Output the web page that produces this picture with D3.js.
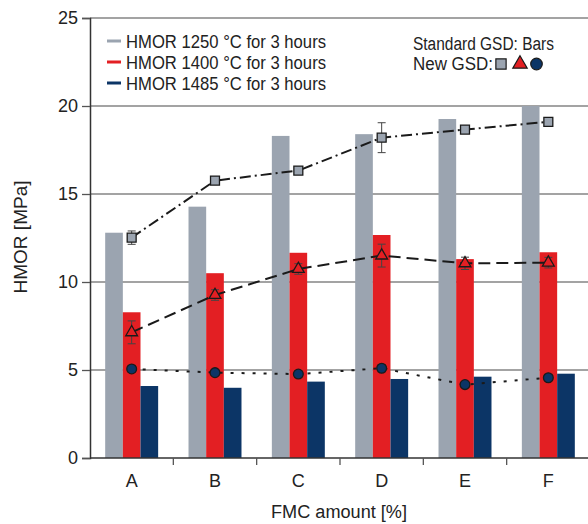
<!DOCTYPE html>
<html>
<head>
<meta charset="utf-8">
<script src="https://cdn.jsdelivr.net/npm/d3@7"></script>
<style>
  html, body { margin: 0; padding: 0; background: #fff; }
  svg { display: block; font-family: "Liberation Sans", Arial, sans-serif; }
</style>
</head>
<body>
<svg id="chart"></svg>
<script>
// Размеры
const width = 588;
const height = 524;

// Данные
const categories = ["A", "B", "C", "D", "E", "F"];
const seriesNames = ["HMOR 1250 °C for 3 hours", "HMOR 1400 °C for 3 hours", "HMOR 1485 °C for 3 hours"];
const colors = ["#9ba4b0", "#e31f23", "#0c3566"];

// Standard GSD: bars
const bars1250 = [12.8, 14.28, 18.3, 18.4, 19.26, 20.0];
const bars1400 = [8.28, 10.5, 11.66, 12.67, 11.3, 11.69];
const bars1485 = [4.09, 3.99, 4.34, 4.49, 4.62, 4.79];

// New GSD: points and errors
const new1250 = [12.52, 15.76, 16.33, 18.2, 18.66, 19.1];
const err1250 = [0.38, 0.2, 0.2, 0.85, 0.15, 0.2];
const new1400 = [7.14, 9.26, 10.74, 11.5, 11.06, 11.1];
const err1400 = [0.65, 0.3, 0.3, 0.65, 0.35, 0.3];
const new1485 = [5.06, 4.85, 4.77, 5.1, 4.17, 4.56];
const err1485 = [0.2, 0.15, 0.2, 0.2, 0.15, 0.15];

const yTicks = [0, 5, 10, 15, 20, 25];

const svg = d3.select("#chart").attr("width", width).attr("height", height);

const x = d3.scaleBand().domain(categories).range([90, 590]).padding(0);
const sub = d3.scaleBand().domain([0, 1, 2]).range([0, x.bandwidth()])
    .paddingInner(0).paddingOuter(0.86);
const y = d3.scaleLinear().domain([0, 25]).range([458, 18]);

// Сетка
svg.append("g")
    .selectAll("line")
    .data(yTicks.filter(d => d > 0))
    .enter()
    .append("line")
    .attr("x1", 90).attr("x2", width)
    .attr("y1", d => y(d)).attr("y2", d => y(d))
    .attr("stroke", "#858585")
    .attr("stroke-width", 1.5);

// Столбцы
const barData = [bars1250, bars1400, bars1485];
barData.forEach((vals, si) => {
    svg.append("g")
        .selectAll("rect")
        .data(vals)
        .enter()
        .append("rect")
        .attr("x", (d, i) => x(categories[i]) + sub(si))
        .attr("width", sub.bandwidth())
        .attr("y", d => y(d))
        .attr("height", d => y(0) - y(d))
        .attr("fill", colors[si]);
});

// Оси
const yAxis = svg.append("g")
    .attr("transform", "translate(90,0)")
    .call(d3.axisLeft(y).tickValues(yTicks).tickSize(8).tickPadding(4));
yAxis.select(".domain").attr("stroke", "#333").attr("stroke-width", 1.5);
yAxis.selectAll(".tick line").attr("stroke", "#555").attr("stroke-width", 1.3);
yAxis.selectAll(".tick text").attr("font-size", 18).attr("fill", "#222")
    .attr("font-family", "Liberation Sans, Arial, sans-serif");

const xAxisG = svg.append("g");
xAxisG.append("line")
    .attr("x1", 90).attr("x2", width)
    .attr("y1", y(0)).attr("y2", y(0))
    .attr("stroke", "#333").attr("stroke-width", 1.5);
xAxisG.selectAll(".xtick")
    .data(categories.slice(1))
    .enter()
    .append("line")
    .attr("x1", d => x(d)).attr("x2", d => x(d))
    .attr("y1", y(0)).attr("y2", y(0) + 7)
    .attr("stroke", "#555").attr("stroke-width", 1.3);
xAxisG.selectAll(".xlabel")
    .data(categories)
    .enter()
    .append("text")
    .attr("x", d => x(d) + x.bandwidth() / 2)
    .attr("y", 487)
    .attr("text-anchor", "middle")
    .attr("font-size", 18)
    .attr("fill", "#222")
    .text(d => d);

// Подписи осей
svg.append("text")
    .attr("x", 339).attr("y", 518)
    .attr("text-anchor", "middle")
    .attr("font-size", 18)
    .attr("textLength", 136).attr("lengthAdjust", "spacingAndGlyphs")
    .attr("fill", "#222")
    .text("FMC amount [%]");

svg.append("text")
    .attr("transform", "translate(27,237) rotate(-90)")
    .attr("text-anchor", "middle")
    .attr("font-size", 19)
    .attr("fill", "#222")
    .text("HMOR [MPa]");

// Линии New GSD
const cx = i => x(categories[i]) + x.bandwidth() / 2;
const lineGen = d3.line().x((d, i) => cx(i)).y(d => y(d));

const points = [
    { vals: new1250, errs: err1250, dash: "11,4,2,4", shape: "square" },
    { vals: new1400, errs: err1400, dash: "12,6", shape: "triangle" },
    { vals: new1485, errs: err1485, dash: "3,8", shape: "circle" }
];

points.forEach((p, si) => {
    svg.append("path")
        .datum(p.vals)
        .attr("d", lineGen)
        .attr("fill", "none")
        .attr("stroke", "#1a1a1a")
        .attr("stroke-width", 2)
        .attr("stroke-dasharray", p.dash);

    // Погрешности
    const eb = svg.append("g").attr("stroke", "#444").attr("stroke-width", 1);
    p.vals.forEach((v, i) => {
        const e = p.errs[i];
        eb.append("line").attr("x1", cx(i)).attr("x2", cx(i))
            .attr("y1", y(v + e)).attr("y2", y(v - e));
        eb.append("line").attr("x1", cx(i) - 4).attr("x2", cx(i) + 4)
            .attr("y1", y(v + e)).attr("y2", y(v + e));
        eb.append("line").attr("x1", cx(i) - 4).attr("x2", cx(i) + 4)
            .attr("y1", y(v - e)).attr("y2", y(v - e));
    });

    // Маркеры
    const symType = p.shape === "square" ? d3.symbolSquare
        : p.shape === "triangle" ? d3.symbolTriangle : d3.symbolCircle;
    const symSize = p.shape === "square" ? 80 : p.shape === "triangle" ? 60 : 75;
    svg.append("g")
        .selectAll("path")
        .data(p.vals)
        .enter()
        .append("path")
        .attr("transform", (d, i) => `translate(${cx(i)},${y(d)})`)
        .attr("d", d3.symbol().type(symType).size(symSize))
        .attr("fill", colors[si])
        .attr("stroke", "#1a1a1a")
        .attr("stroke-width", 1.3);
});

// Легенда
const legend = svg.append("g");
seriesNames.forEach((name, i) => {
    legend.append("line")
        .attr("x1", 107).attr("x2", 121)
        .attr("y1", 41 + i * 21).attr("y2", 41 + i * 21)
        .attr("stroke", colors[i]).attr("stroke-width", 3);
    legend.append("text")
        .attr("x", 126).attr("y", 47.5 + i * 21)
        .attr("font-size", 18.5)
        .attr("textLength", 200).attr("lengthAdjust", "spacingAndGlyphs")
        .attr("fill", "#222")
        .text(name);
});

legend.append("text")
    .attr("x", 413).attr("y", 49.5)
    .attr("font-size", 18)
    .attr("textLength", 141).attr("lengthAdjust", "spacingAndGlyphs")
    .attr("fill", "#222")
    .text("Standard GSD: Bars");
legend.append("text")
    .attr("x", 413).attr("y", 70)
    .attr("font-size", 18)
    .attr("textLength", 80).attr("lengthAdjust", "spacingAndGlyphs")
    .attr("fill", "#222")
    .text("New GSD:");

const keyShapes = [d3.symbolSquare, d3.symbolTriangle, d3.symbolCircle];
const keyX = [501, 520, 536.5];
keyShapes.forEach((s, i) => {
    legend.append("path")
        .attr("transform", `translate(${keyX[i]},64)`)
        .attr("d", d3.symbol().type(s).size(i === 1 ? 90 : 105))
        .attr("fill", colors[i])
        .attr("stroke", "#1a1a1a")
        .attr("stroke-width", 1.2);
});
</script>
</body>
</html>
